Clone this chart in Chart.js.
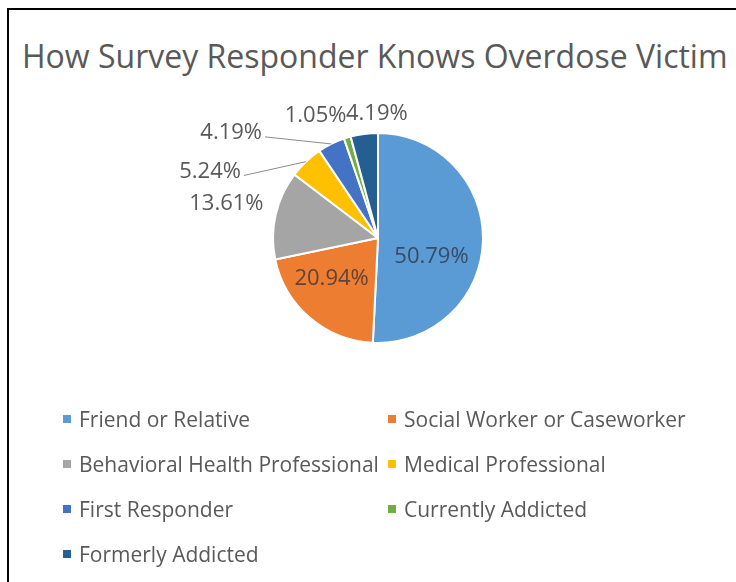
<!DOCTYPE html>
<html>
<head>
<meta charset="utf-8">
<script src="https://cdn.jsdelivr.net/npm/chart.js@4/dist/chart.umd.min.js"></script>
<style>
  body { margin: 0; background: #fff; width: 736px; height: 582px; overflow: hidden; position: relative; font-family: "Open Sans", sans-serif; }
  #frame { position: absolute; left: 7px; top: 8px; width: 800px; height: 700px; border-left: 2px solid #000; border-top: 2px solid #000; }
  #title { position: absolute; left: 22px; top: 40px; font-size: 32px; line-height: 32px; color: #595959; white-space: nowrap; }
  #pie { position: absolute; left: 0; top: 0; }
  #legend { position: absolute; left: 63px; top: 396px; display: grid; grid-template-columns: 325px 325px; }
  .item { display: flex; align-items: center; height: 45px; font-size: 21px; color: #595959; white-space: nowrap; }
  .box { width: 8px; height: 8px; margin-right: 8px; flex: none; }
</style>
</head>
<body>
<div id="frame"></div>
<div id="title">How Survey Responder Knows Overdose Victim</div>
<canvas id="pie" width="736" height="582"></canvas>
<div id="legend"></div>
<script>
const categories = ['Friend or Relative', 'Social Worker or Caseworker', 'Behavioral Health Professional',
  'Medical Professional', 'First Responder', 'Currently Addicted', 'Formerly Addicted'];
const shares = [50.79, 20.94, 13.61, 5.24, 4.19, 1.05, 4.19];
const colors = ['#5B9BD5', '#ED7D31', '#A5A5A5', '#FFC000', '#4472C4', '#70AD47', '#255E91'];

// where each data label sits: angle shift from slice middle (deg), distance as share of radius
const labelPlace = [
  { shift: 18, dist: 0.54, inside: true },
  { shift: 8, dist: 0.59, inside: true },
  { shift: 0, dist: 1.48 },
  { shift: -25, dist: 1.72, leader: true },
  { shift: -28, dist: 1.72, leader: true },
  { shift: -10, dist: 1.31 },
  { shift: 7, dist: 1.18 }
];

const sliceLabels = {
  id: 'sliceLabels',
  afterDatasetsDraw(chart) {
    const ctx = chart.ctx;
    const arcs = chart.getDatasetMeta(0).data;
    ctx.save();
    ctx.font = '22px "Open Sans"';
    ctx.textAlign = 'center';
    ctx.textBaseline = 'middle';
    arcs.forEach((arc, i) => {
      const p = labelPlace[i];
      const mid = (arc.startAngle + arc.endAngle) / 2;
      const a = mid + p.shift * Math.PI / 180;
      const R = arc.outerRadius;
      const x = arc.x + Math.cos(a) * R * p.dist;
      const y = arc.y + Math.sin(a) * R * p.dist;
      const txt = shares[i].toFixed(2) + '%';
      if (p.leader) {
        const w = ctx.measureText(txt).width;
        ctx.strokeStyle = '#8C8C8C';
        ctx.lineWidth = 1;
        ctx.beginPath();
        ctx.moveTo(x + w / 2 + 3, y + 4);
        ctx.lineTo(arc.x + Math.cos(mid) * R, arc.y + Math.sin(mid) * R);
        ctx.stroke();
      }
      ctx.fillStyle = p.inside ? 'rgba(40,45,60,0.72)' : '#595959';
      ctx.fillText(txt, x, y);
    });
    ctx.restore();
  }
};

new Chart(document.getElementById('pie'), {
  type: 'pie',
  data: {
    labels: categories,
    datasets: [{
      data: shares,
      backgroundColor: colors,
      borderColor: '#fff',
      borderWidth: 2
    }]
  },
  options: {
    responsive: false,
    animation: false,
    layout: { padding: { left: 272, right: 252, top: 132, bottom: 238 } },
    plugins: {
      legend: { display: false },
      title: { display: false },
      tooltip: { enabled: false }
    }
  },
  plugins: [sliceLabels]
});

const legend = document.getElementById('legend');
categories.forEach((name, i) => {
  const item = document.createElement('div');
  item.className = 'item';
  const box = document.createElement('span');
  box.className = 'box';
  box.style.background = colors[i];
  item.appendChild(box);
  item.appendChild(document.createTextNode(name));
  legend.appendChild(item);
});
</script>
</body>
</html>
